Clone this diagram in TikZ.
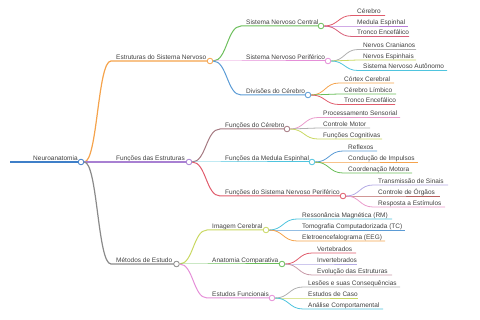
\documentclass[tikz,border=0pt]{standalone}
\usepackage{fontspec}
\setmainfont{Liberation Sans}
\usetikzlibrary{calc}
\definecolor{cRoot}{HTML}{3F7FC8}
\definecolor{cOrange}{HTML}{F5A34C}
\definecolor{cPurple}{HTML}{A880D2}
\definecolor{cGray}{HTML}{8A8A8A}
\definecolor{cGreen}{HTML}{6BBE5A}
\definecolor{cPink}{HTML}{E58FD8}
\definecolor{cBlue}{HTML}{5B9BD5}
\definecolor{cRed}{HTML}{E05C6C}
\definecolor{cMauve}{HTML}{A47880}
\definecolor{cCyan}{HTML}{4FC4DE}
\definecolor{cYG}{HTML}{C9D862}
\definecolor{cLav}{HTML}{B4ABE5}
\definecolor{cLGray}{HTML}{B0B0B0}
\definecolor{cBrownRed}{HTML}{B8605E}
\definecolor{cLPink}{HTML}{EA9CCC}
\definecolor{cMPurple}{HTML}{B87DD8}
\definecolor{cDRed}{HTML}{D8607A}
\definecolor{cRose}{HTML}{C89AA8}
\definecolor{txt}{HTML}{404040}
\tikzset{
  lbl/.style={font=\fontsize{6.5}{7}\selectfont, text=txt, inner sep=0pt, anchor=base west},
  dot/.style={circle, draw=#1, fill=white, inner sep=0pt, minimum size=5.6pt, line width=0.8pt},
}
% #1 name, #2 parent, #3 start x, #4 y, #5 end x, #6 colour, #7 width, #8 text
\newcommand\mmline[8]{%
  \node[lbl] (#1) at (#3+5,#4-1.8) {#8};
  \coordinate (#1s) at (#3,#4);
  \coordinate (#1e) at (#5,#4);
  \draw[#6, line width=#7] (#2.east) let \p1=(#2.east), \p2=(#1s) in
    .. controls (\x1/2+\x2/2,\y1) and (\x1/2+\x2/2,\y2) .. (#1s) -- (#1e);
}
\newcommand\mmbranch[8]{%
  \mmline{#1}{#2}{#3}{#4}{#5}{#6}{#7}{#8}%
  \node[dot=#6] (#1c) at (#1e) {};
}
\begin{document}
\begin{tikzpicture}[x=1pt,y=-1pt]
\useasboundingbox (0,0) rectangle (480,320);
% root
\coordinate (roots) at (10,162);
\coordinate (roote) at (81,162);
\draw[cRoot, line width=1.6] (roots) -- (roote);
\node[dot=cRoot] (rootc) at (roote) {};
\node[lbl] (root) at (33,160.2) {Neuroanatomia};
% level 1
\mmbranch{E}{rootc}{111}{61}{210}{cOrange}{1.2}{Estruturas do Sistema Nervoso}
\mmbranch{F}{rootc}{111}{162}{189}{cPurple}{1.2}{Funções das Estruturas}
\mmbranch{M}{rootc}{111}{264}{176.5}{cGray}{1.2}{Métodos de Estudo}
% level 2
\mmbranch{SNC}{Ec}{241}{26}{321}{cGreen}{1.0}{Sistema Nervoso Central}
\mmbranch{SNP}{Ec}{241}{61}{328}{cPink}{1.0}{Sistema Nervoso Periférico}
\mmbranch{DIV}{Ec}{241}{95}{308}{cBlue}{1.0}{Divisões do Cérebro}
\mmbranch{FC}{Fc}{220}{129}{287}{cMauve}{1.0}{Funções do Cérebro}
\mmbranch{FM}{Fc}{220}{162}{312}{cCyan}{1.0}{Funções da Medula Espinhal}
\mmbranch{FP}{Fc}{220}{196}{343}{cRed}{1.0}{Funções do Sistema Nervoso Periférico}
\mmbranch{IC}{Mc}{207}{230}{266}{cYG}{1.0}{Imagem Cerebral}
\mmbranch{AC}{Mc}{207}{264}{282}{cGreen}{1.0}{Anatomia Comparativa}
\mmbranch{EF}{Mc}{207}{298}{272}{cPink}{1.0}{Estudos Funcionais}
% level 3
\mmline{a1}{SNCc}{352}{15.5}{385}{cRed}{0.8}{Cérebro}
\mmline{a2}{SNCc}{352}{26}{408}{cMPurple}{0.8}{Medula Espinhal}
\mmline{a3}{SNCc}{352}{36.5}{409}{cDRed}{0.8}{Tronco Encefálico}
\mmline{b1}{SNPc}{358}{49.5}{416}{cLGray}{0.8}{Nervos Cranianos}
\mmline{b2}{SNPc}{358}{60}{416}{cYG}{0.8}{Nervos Espinhais}
\mmline{b3}{SNPc}{358}{70.5}{447}{cCyan}{0.8}{Sistema Nervoso Autônomo}
\mmline{c1}{DIVc}{339}{83}{394}{cOrange}{0.8}{Córtex Cerebral}
\mmline{c2}{DIVc}{339}{94}{396}{cGreen}{0.8}{Cérebro Límbico}
\mmline{c3}{DIVc}{339}{104.5}{395}{cRed}{0.8}{Tronco Encefálico}
\mmline{d1}{FCc}{318}{117.5}{400}{cLPink}{0.8}{Processamento Sensorial}
\mmline{d2}{FCc}{318}{128}{370}{cLGray}{0.8}{Controle Motor}
\mmline{d3}{FCc}{318}{139}{382}{cYG}{0.8}{Funções Cognitivas}
\mmline{e1}{FMc}{343}{151}{377}{cBlue}{0.8}{Reflexos}
\mmline{e2}{FMc}{343}{162}{418}{cOrange}{0.8}{Condução de Impulsos}
\mmline{e3}{FMc}{343}{173}{412}{cGreen}{0.8}{Coordenação Motora}
\mmline{f1}{FPc}{373}{185}{448}{cLav}{0.8}{Transmissão de Sinais}
\mmline{f2}{FPc}{373}{196}{440}{cBrownRed}{0.8}{Controle de Órgãos}
\mmline{f3}{FPc}{373}{207}{445}{cLPink}{0.8}{Resposta a Estímulos}
\mmline{g1}{ICc}{297}{219}{392}{cCyan}{0.8}{Ressonância Magnética (RM)}
\mmline{g2}{ICc}{297}{230}{405}{cBlue}{0.8}{Tomografia Computadorizada (TC)}
\mmline{g3}{ICc}{297}{241}{385}{cOrange}{0.8}{Eletroencefalograma (EEG)}
\mmline{h1}{ACc}{312}{253}{356}{cRed}{0.8}{Vertebrados}
\mmline{h2}{ACc}{312}{264}{357}{cLav}{0.8}{Invertebrados}
\mmline{h3}{ACc}{312}{275}{392}{cRose}{0.8}{Evolução das Estruturas}
\mmline{k1}{EFc}{303}{287}{400}{cLGray}{0.8}{Lesões e suas Consequências}
\mmline{k2}{EFc}{303}{298}{358}{cYG}{0.8}{Estudos de Caso}
\mmline{k3}{EFc}{303}{309}{383}{cCyan}{0.8}{Análise Comportamental}
\end{tikzpicture}
\end{document}
